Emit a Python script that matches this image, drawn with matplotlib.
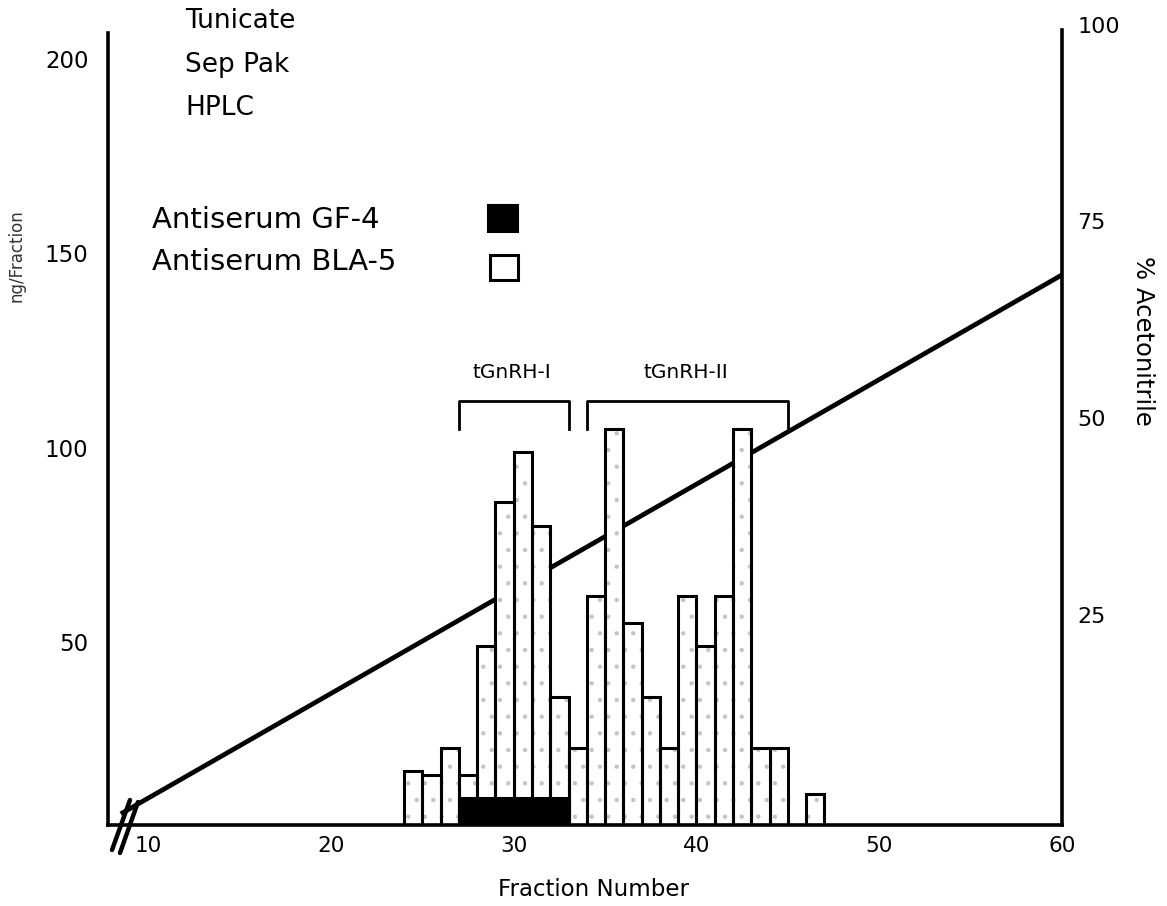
import matplotlib
matplotlib.use("Agg")
import matplotlib.pyplot as plt
from matplotlib.patches import Rectangle
from matplotlib.lines import Line2D

plt.rcParams['font.family'] = ['DejaVu Sans']
plt.rcParams['hatch.linewidth'] = 0.7

# ---- data ----
bla5_fractions = [24, 25, 26, 27, 28, 29, 30, 31, 32, 33, 34, 35, 36, 37, 38,
                  39, 40, 41, 42, 43, 44, 46]
bla5_ng = [17, 16, 23, 16, 49, 86, 99, 80, 36, 23, 62, 105, 55, 36, 23,
           62, 49, 62, 105, 23, 23, 11]
gf4_fractions = [27, 28, 29, 30, 31, 32]
gf4_ng = [10, 10, 10, 10, 10, 10]
gradient_fraction = [8.5, 60]
gradient_pct = [-0.3, 68.2]
x_ticks = [10, 20, 30, 40, 50, 60]
y_ticks = [50, 100, 150, 200]
y2_ticks = [25, 50, 75, 100]
brackets = [("tGnRH-I", 27, 33), ("tGnRH-II", 34, 45)]
info_lines = ["Tunicate", "Sep Pak", "HPLC"]
legend_labels = ["Antiserum GF-4", "Antiserum BLA-5"]

W, H = 1167, 906
fig = plt.figure(figsize=(W / 100, H / 100), dpi=100)

def fx(px):
    return px / W

def fy(py):
    return 1 - py / H

top_px, bot_px, left_px, right_px = 22, 825, 108, 1062
ax = fig.add_axes([fx(left_px), fy(bot_px), fx(right_px) - fx(left_px), fy(top_px) - fy(bot_px)])
ax2 = ax.twinx()
ax.set_zorder(ax2.get_zorder() + 1)
ax.patch.set_visible(False)

ax.set_xlim(7.8, 60)
ax.set_ylim(3.08, 209.5)
ax2.set_ylim(-1.72, 100.34)

# gradient line (behind bars)
ax2.plot(gradient_fraction, gradient_pct, color='black', lw=3.4, solid_capstyle='butt')

# BLA-5 bars: stippled fill then outline
ax.bar(bla5_fractions, bla5_ng, width=1, align='edge', bottom=0,
       color='white', edgecolor='#c4c4c4', hatch='.', linewidth=0, zorder=2)
ax.bar(bla5_fractions, bla5_ng, width=1, align='edge', bottom=0,
       color='none', edgecolor='black', linewidth=2.2, zorder=3)
# GF-4 bars
ax.bar(gf4_fractions, gf4_ng, width=1, align='edge', bottom=0,
       color='black', edgecolor='black', linewidth=2.2, zorder=4)

# brackets
for label, x0, x1 in brackets:
    ax.plot([x0, x0, x1, x1], [105, 112, 112, 105], color='black', lw=2.0,
            zorder=5, clip_on=False)
    ax.text((x0 + x1) / 2 - 0.1, 119.5, label, ha='center', va='center', fontsize=14.5)

# spines
for a in (ax, ax2):
    a.spines['top'].set_visible(False)
ax.spines['left'].set_linewidth(2.6)
ax.spines['bottom'].set_linewidth(2.6)
ax2.spines['right'].set_linewidth(2.6)
ax2.spines['left'].set_visible(False)
ax2.spines['bottom'].set_visible(False)
ax.spines['right'].set_visible(False)
ax.spines['left'].set_bounds(3.08, 206.7)
ax2.spines['right'].set_bounds(-1.72, 99.3)

ax.set_xticks(x_ticks)
ax.set_xticklabels([str(t) for t in x_ticks])
ax.set_yticks(y_ticks)
ax.set_yticklabels([str(t) for t in y_ticks])
ax2.set_yticks(y2_ticks)
ax2.set_yticklabels([str(t) for t in y2_ticks])
ax.tick_params(axis='x', length=0, pad=8, labelsize=15.5)
ax.tick_params(axis='y', length=0, pad=14, labelsize=16.5)
ax2.tick_params(axis='y', length=0, pad=11, labelsize=16)

fig.text(fx(594), fy(890), "Fraction Number", ha='center', va='center', fontsize=16.5)
fig.text(fx(17), fy(256), "ng/Fraction", ha='center', va='center', rotation=90,
         fontsize=12, color='#333333')
fig.text(fx(1143), fy(341), "% Acetonitrile", ha='center', va='center', rotation=-90,
         fontsize=17.5)

# info text
for i, t in enumerate(info_lines):
    fig.text(fx(185), fy(21 + 43.5 * i), t, ha='left', va='center', fontsize=19)

# legend
for i, t in enumerate(legend_labels):
    fig.text(fx(152), fy(220 + 42 * i), t, ha='left', va='center', fontsize=21)
fig.patches.append(Rectangle((fx(488), fy(232)), fx(30), fy(0) - fy(27),
                             transform=fig.transFigure, facecolor='black',
                             edgecolor='black', lw=1.5))
fig.patches.append(Rectangle((fx(490), fy(280)), fx(28), fy(0) - fy(25),
                             transform=fig.transFigure, facecolor='white',
                             edgecolor='black', lw=2.2))

# axis break marks
for (xa, ya, xb, yb) in [(130, 800, 112, 850), (138, 802, 120, 853)]:
    fig.add_artist(Line2D([fx(xa), fx(xb)], [fy(ya), fy(yb)], transform=fig.transFigure,
                          color='black', lw=3.2, solid_capstyle='round'))

fig.savefig("out.png", dpi=100)
